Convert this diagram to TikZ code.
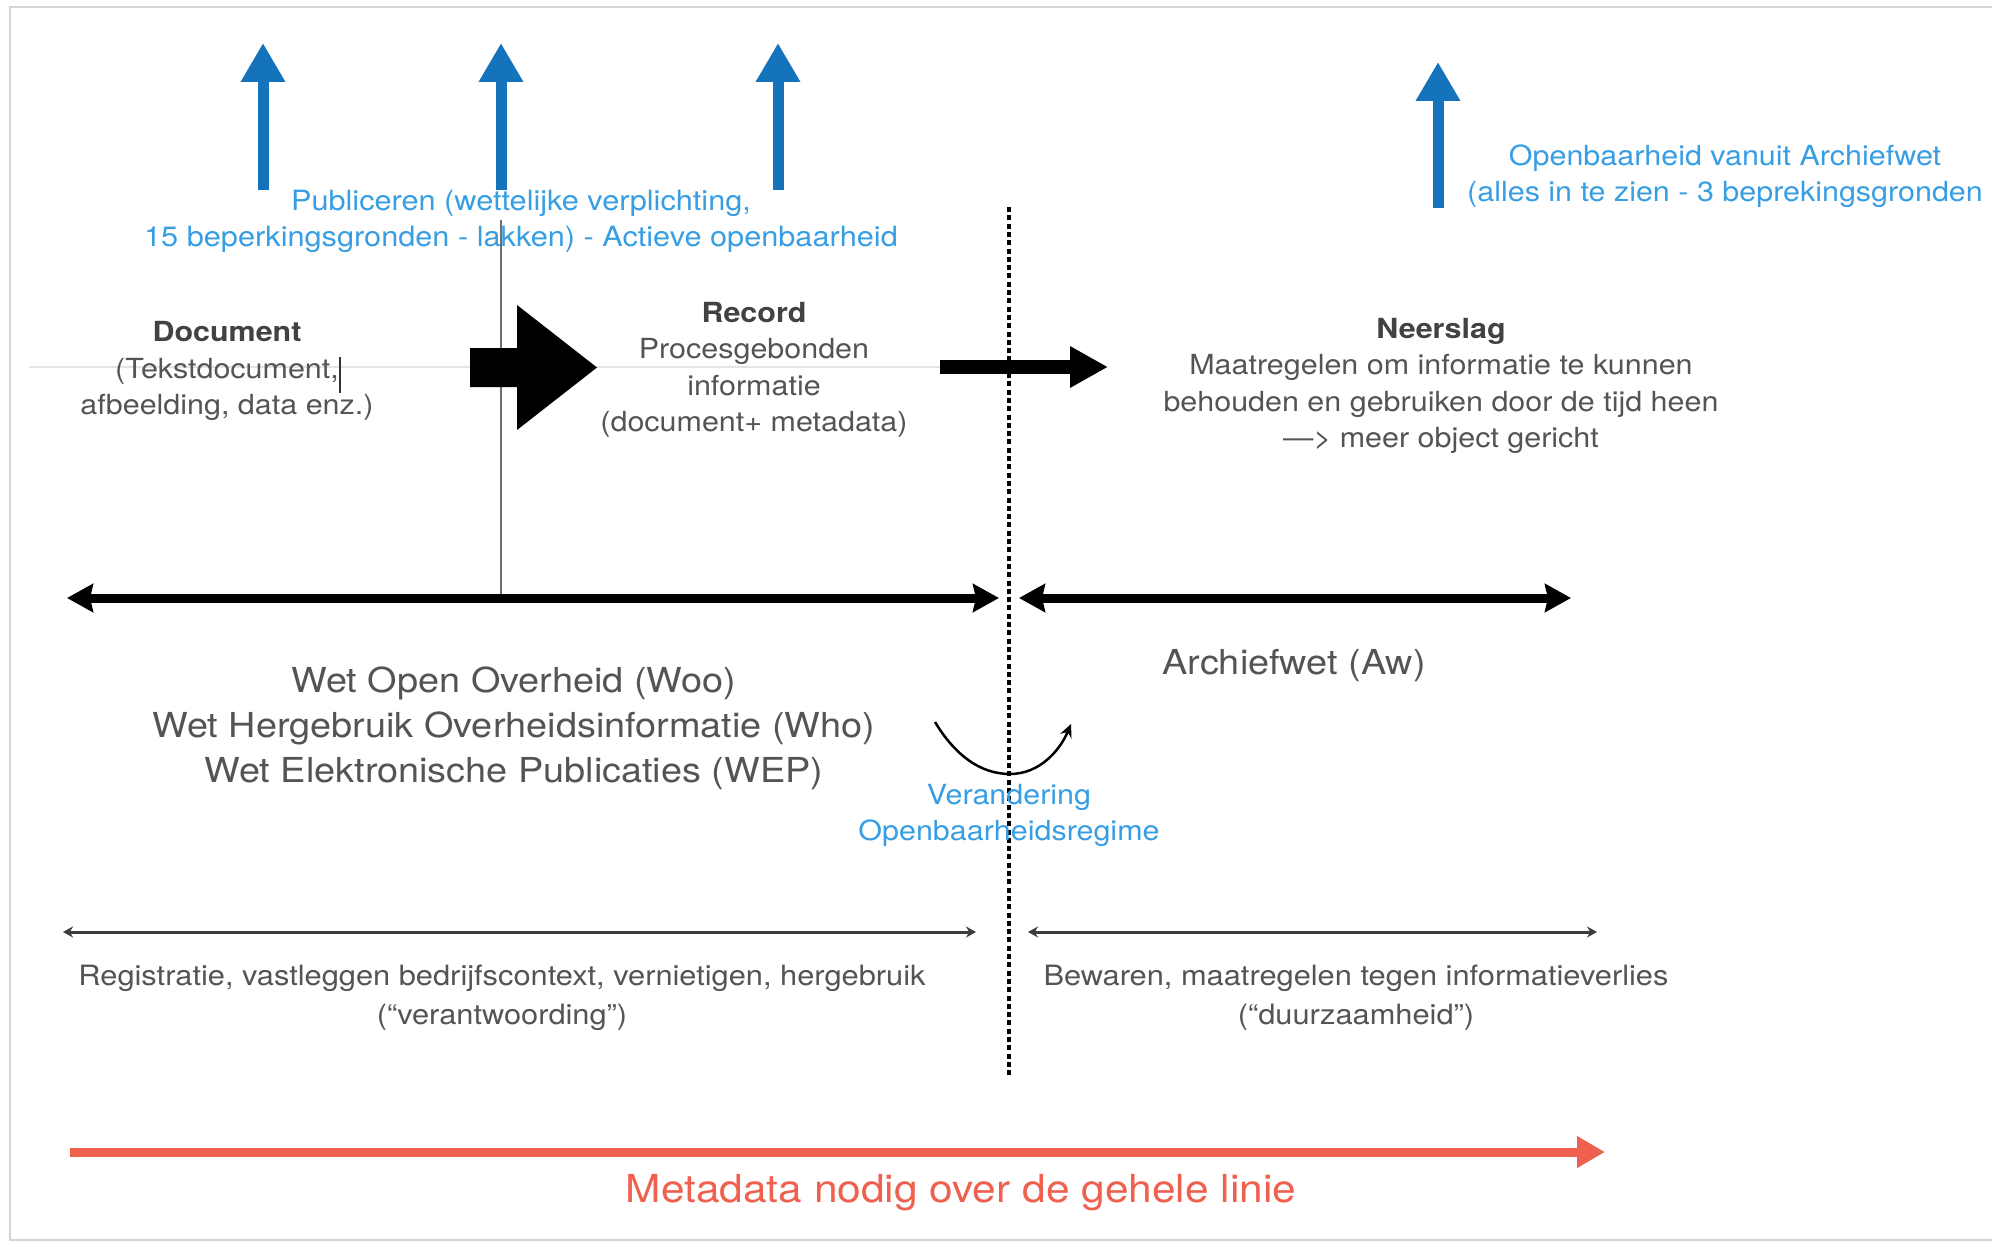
\documentclass[tikz,border=0pt]{standalone}
\usepackage{fontspec}
\setmainfont{TeX Gyre Heros}[FakeStretch=1.1]
\usetikzlibrary{arrows.meta}

\definecolor{arrblue}{RGB}{21,115,188}
\definecolor{txtblue}{RGB}{55,158,228}
\definecolor{txtgray}{RGB}{84,84,84}
\definecolor{lblgray}{RGB}{66,66,66}
\definecolor{metared}{RGB}{240,96,78}
\definecolor{framegray}{RGB}{212,212,212}
\definecolor{faintgray}{RGB}{228,228,228}
\definecolor{rulegray}{RGB}{110,110,110}
\definecolor{spangray}{RGB}{60,60,60}

\tikzset{
  lbl/.style={font=\fontsize{27.7}{36.5}\selectfont, text=txtgray, align=center, inner sep=0pt},
  bluetxt/.style={font=\fontsize{27.9}{36}\selectfont, text=txtblue, align=center, inner sep=0pt},
  lawtxt/.style={font=\fontsize{34.4}{45}\selectfont, text=txtgray, align=center, inner sep=0pt},
  bottomtxt/.style={font=\fontsize{28}{39}\selectfont, text=txtgray, align=center, inner sep=0pt},
  bluearr/.style={draw=arrblue, line width=11pt, -{Triangle[length=39pt,width=42pt]}},
  flowarr/.style={draw=black, line width=14pt, -{Triangle[length=38pt,width=39pt]}},
  lawspan/.style={draw=black, line width=9pt, {Stealth[length=26pt,width=28pt,inset=3pt]}-{Stealth[length=26pt,width=28pt,inset=3pt]}},
  dutyspan/.style={draw=spangray, line width=3pt, {Stealth[length=10pt,width=11pt]}-{Stealth[length=10pt,width=11pt]}},
  metaarr/.style={draw=metared, line width=9pt, -{Triangle[length=28pt,width=30pt]}},
  divider/.style={draw=black, line width=3.5pt, dash pattern=on 5pt off 3.3pt},
  curvearr/.style={draw=black, line width=2.5pt, -{Stealth[length=13pt,width=12pt]}},
}

\begin{document}
\begin{tikzpicture}[x=1pt,y=-1pt]
\useasboundingbox (0,0) rectangle (1992,1244);
\fill[white] (0,0) rectangle (1992,1244);

% frame
\draw[framegray, line width=2.5pt] (1992,7) -- (10,7) -- (10,1240) -- (1992,1240);

% faint baseline through the top row
\coordinate (fl1) at (29,367);
\coordinate (fl2) at (940,367);
\draw[faintgray, line width=2pt] (fl1) -- (fl2);

% thin vertical rule under the second publication arrow
\coordinate (vr1) at (501,220);
\coordinate (vr2) at (501,597);
\draw[rulegray, line width=1.8pt] (vr1) -- (vr2);

% publication arrows
\coordinate (b1s) at (263,190); \coordinate (b1e) at (263,43);
\coordinate (b2s) at (501,190); \coordinate (b2e) at (501,43);
\coordinate (b3s) at (778,190); \coordinate (b3e) at (778,43);
\coordinate (b4s) at (1438,208); \coordinate (b4e) at (1438,62);
\draw[bluearr] (b1s) -- (b1e);
\draw[bluearr] (b2s) -- (b2e);
\draw[bluearr] (b3s) -- (b3e);
\draw[bluearr] (b4s) -- (b4e);

\node[bluetxt] (pub) at (521,221) {Publiceren (wettelijke verplichting,\\15 beperkingsgronden - lakken) - Actieve openbaarheid};
\node[bluetxt, font=\fontsize{27.7}{36}\selectfont] (awopen) at (1725,176) {Openbaarheid vanuit Archiefwet\\(alles in te zien - 3 beprekingsgronden};

% top row labels
\node[lbl] (doc) at (227,371) {\textcolor{lblgray}{\textbf{Document}}\\(Tekstdocument,\\afbeelding, data enz.)};
\node[lbl] (rec) at (754,370) {\textcolor{lblgray}{\textbf{Record}}\\Procesgebonden\\informatie\\(document+ metadata)};
\node[lbl] (neer) at (1441,386) {\textcolor{lblgray}{\textbf{Neerslag}}\\Maatregelen om informatie te kunnen\\behouden en gebruiken door de tijd heen\\—> meer object gericht};

% text cursor after "(Tekstdocument,"
\coordinate (cur1) at (340,357);
\coordinate (cur2) at (340,393);
\draw[black!80, line width=1.5pt] (cur1) -- (cur2);

% block arrow Document -> Record
\fill[black] (470,348) -- (517,348) -- (517,305) -- (597,367.5) -- (517,430) -- (517,387) -- (470,387) -- cycle;

% arrow Record -> Neerslag
\coordinate (f1) at (940,367);
\coordinate (f2) at (1108,367);
\draw[flowarr] (f1) -- (f2);

% dividing line
\coordinate (d1) at (1009,207);
\coordinate (d2) at (1009,1078);
\draw[divider] (d1) -- (d2);

% law spans
\coordinate (l1) at (67,598); \coordinate (l2) at (999,598);
\coordinate (l3) at (1019,598); \coordinate (l4) at (1571,598);
\draw[lawspan] (l1) -- (l2);
\draw[lawspan] (l3) -- (l4);

\node[lawtxt] (laws) at (514,728) {Wet Open Overheid (Woo)\\Wet Hergebruik Overheidsinformatie (Who)\\Wet Elektronische Publicaties (WEP)};
\node[lawtxt] (awlaw) at (1294,666) {Archiefwet (Aw)};

% change of disclosure regime
\coordinate (c1) at (935,722);
\coordinate (cb) at (1010,774);
\coordinate (c2) at (1071,724);
\draw[curvearr] (c1) .. controls (955,755) and (980,774) .. (cb) .. controls (1040,774) and (1060,750) .. (c2);
\node[bluetxt, font=\fontsize{27.7}{36}\selectfont] (veran) at (1009,815) {Verandering\\Openbaarheidsregime};

% duty spans
\coordinate (s1) at (63,932); \coordinate (s2) at (976,932);
\coordinate (s3) at (1028,932); \coordinate (s4) at (1597,932);
\draw[dutyspan] (s1) -- (s2);
\draw[dutyspan] (s3) -- (s4);

\node[bottomtxt] (reg) at (502,998) {Registratie, vastleggen bedrijfscontext, vernietigen, hergebruik\\(“verantwoording”)};
\node[bottomtxt] (bew) at (1356,998) {Bewaren, maatregelen tegen informatieverlies\\(“duurzaamheid”)};

% metadata arrow
\coordinate (m1) at (70,1152);
\coordinate (m2) at (1605,1152);
\draw[metaarr] (m1) -- (m2);
\node[font=\fontsize{38.6}{46}\selectfont, text=metared, inner sep=0pt] (meta) at (961,1193) {Metadata nodig over de gehele linie};
\end{tikzpicture}
\end{document}
